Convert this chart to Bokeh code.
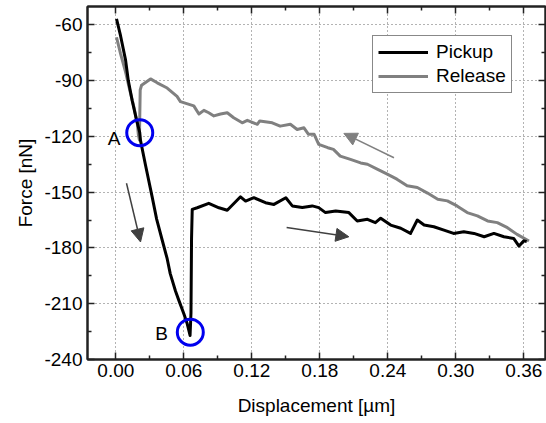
from bokeh.plotting import figure
from bokeh.models import (Range1d, FixedTicker, LinearAxis, Legend, LegendItem,
                          Arrow, NormalHead, ColumnDataSource)
from bokeh.core.properties import value
from bokeh.embed import file_html
from bokeh.resources import INLINE

# ---------------- data ----------------
pickup_x = [0.0006, 0.0042, 0.0086, 0.011, 0.0145, 0.018, 0.0211, 0.0218, 0.0262, 0.032,
            0.036, 0.041, 0.0453, 0.048, 0.0527, 0.0556, 0.06, 0.063, 0.0655,
            0.0663, 0.0668, 0.0674, 0.0718, 0.082, 0.091, 0.0983, 0.110, 0.1145, 0.1218,
            0.132, 0.1395, 0.150, 0.1557, 0.1645, 0.1733, 0.179, 0.185, 0.194, 0.2056,
            0.213, 0.222, 0.229, 0.2337, 0.2425, 0.2514, 0.26, 0.266, 0.272, 0.2806,
            0.2895, 0.298, 0.307, 0.316, 0.325, 0.3336, 0.3424, 0.351, 0.3557, 0.36, 0.3625]
pickup_y = [-56.8, -66.0, -79.0, -90.0, -101.0, -110.5, -118.0, -122.3, -135.5, -152.4,
            -164.5, -176.0, -185.8, -193.8, -203.3, -208.2, -215.4, -220.8, -227.1,
            -215.0, -175.0, -159.3, -158.4, -156.0, -158.4, -159.7, -152.5, -154.8, -153.0,
            -155.7, -156.6, -153.0, -157.4, -158.3, -157.4, -158.3, -161.0, -160.1, -161.0,
            -165.5, -164.6, -166.4, -164.0, -167.7, -169.4, -172.2, -165.0, -167.7, -168.6,
            -170.4, -172.2, -171.3, -172.2, -174.0, -172.2, -174.0, -174.9, -179.0, -176.2, -176.5]

release_x = [0.0006, 0.0042, 0.0086, 0.0124, 0.016, 0.019, 0.0198, 0.0208, 0.0215,
             0.0227, 0.0306, 0.0365, 0.0453, 0.054, 0.057, 0.0688, 0.0733, 0.0777, 0.082,
             0.0865, 0.0924, 0.0983, 0.104, 0.1115, 0.116, 0.1248, 0.127, 0.138, 0.145,
             0.154, 0.160, 0.166, 0.170, 0.175, 0.179, 0.187, 0.192, 0.198, 0.207, 0.216,
             0.222, 0.2306, 0.2395, 0.248, 0.257, 0.266, 0.275, 0.284, 0.2925, 0.301,
             0.310, 0.319, 0.328, 0.3366, 0.3455, 0.354, 0.3645]
release_y = [-66.7, -75.6, -85.5, -95.4, -104.4, -113.3, -118.7, -122.0, -95.0,
             -92.5, -89.1, -91.2, -94.0, -98.5, -101.3, -103.6, -108.0, -106.0, -107.3,
             -109.0, -108.0, -107.3, -110.0, -112.7, -111.4, -113.5, -111.7, -112.7, -114.5,
             -113.5, -116.3, -115.4, -118.9, -118.9, -124.3, -126.1, -127.0, -130.6, -132.4, -134.3,
             -135.0, -137.6, -140.3, -143.0, -146.6, -147.5, -150.5, -153.8, -154.7, -157.4,
             -161.0, -162.8, -165.5, -166.4, -169.1, -172.7, -176.3]

series_names = ["Pickup", "Release"]

x_ticks = [0.0, 0.06, 0.12, 0.18, 0.24, 0.30, 0.36]
x_tick_labels = ["0.00", "0.06", "0.12", "0.18", "0.24", "0.30", "0.36"]
x_minor = [0.03, 0.09, 0.15, 0.21, 0.27, 0.33]
y_ticks = [-240, -210, -180, -150, -120, -90, -60]
y_tick_labels = ["-240", "-210", "-180", "-150", "-120", "-90", "-60"]
y_minor = [-225, -195, -165, -135, -105, -75]

marker_names = ["A", "B"]
marker_x = [0.0211, 0.0657]
marker_y = [-118.0, -225.3]
label_x = [0.0041, 0.0459]
label_y = [-121.2, -226.2]

arrow_x_start = [0.0094, 0.1507, 0.2454]
arrow_y_start = [-145.2, -169.0, -131.5]
arrow_x_end = [0.0218, 0.2056, 0.2012]
arrow_y_end = [-176.8, -174.0, -118.4]
arrow_colors = ["#404040", "#404040", "#808080"]

# ---------------- styling ----------------
FONT = "Liberation Sans"
FS = "19px"
TXT = "#000000"
AXC = "#222222"

p = figure(width=546, height=423, output_backend="svg", toolbar_location=None,
           x_range=Range1d(-0.025, 0.3791), y_range=Range1d(-240, -50.16),
           min_border_left=87, min_border_right=1, min_border_top=6, min_border_bottom=64)
p.background_fill_color = "white"
p.border_fill_color = "white"
p.outline_line_color = AXC
p.outline_line_width = 2

xt = FixedTicker(ticks=x_ticks, minor_ticks=x_minor)
yt = FixedTicker(ticks=y_ticks, minor_ticks=y_minor)

def style_axis(ax, t):
    ax.ticker = t
    ax.major_tick_in = 7
    ax.major_tick_out = 0
    ax.minor_tick_in = 4
    ax.minor_tick_out = 0
    ax.axis_line_color = AXC
    ax.axis_line_width = 2
    ax.major_tick_line_color = AXC
    ax.major_tick_line_width = 1.5
    ax.minor_tick_line_color = AXC
    ax.minor_tick_line_width = 1.5

for ax, t, labels in ((p.xaxis[0], xt, dict(zip(x_ticks, x_tick_labels))),
                      (p.yaxis[0], yt, dict(zip(y_ticks, y_tick_labels)))):
    style_axis(ax, t)
    ax.major_label_overrides = labels
    ax.major_label_text_font = FONT
    ax.major_label_text_font_size = FS
    ax.major_label_text_color = TXT
    ax.axis_label_text_font = FONT
    ax.axis_label_text_font_size = FS
    ax.axis_label_text_font_style = "normal"
    ax.axis_label_text_color = TXT

p.xaxis[0].axis_label = "Displacement [\u00b5m]"
p.yaxis[0].axis_label = "Force [nN]"
p.xaxis[0].major_label_standoff = 4
p.yaxis[0].major_label_standoff = 5
p.xaxis[0].axis_label_standoff = 15
p.yaxis[0].axis_label_standoff = 5

for loc, t, ticks in (("above", xt, x_ticks), ("right", yt, y_ticks)):
    ax2 = LinearAxis()
    style_axis(ax2, t)
    ax2.major_label_overrides = {k: "" for k in ticks}
    ax2.major_label_text_font_size = "1px"
    ax2.major_label_standoff = 0
    p.add_layout(ax2, loc)

for g, t in ((p.xgrid[0], xt), (p.ygrid[0], yt)):
    g.ticker = t
    g.grid_line_color = "#666666"
    g.grid_line_dash = "1 3"
    g.grid_line_width = 1

# ---------------- curves ----------------
r_rel = p.line(release_x, release_y, line_color="#808080", line_width=3, line_join="round")
r_pick = p.line(pickup_x, pickup_y, line_color="#000000", line_width=3, line_join="round")

# ---------------- arrows ----------------
for xs, ys, xe, ye, c in zip(arrow_x_start, arrow_y_start, arrow_x_end, arrow_y_end, arrow_colors):
    p.add_layout(Arrow(end=NormalHead(size=13, fill_color=c, line_color=c, line_width=1),
                       x_start=xs, y_start=ys, x_end=xe, y_end=ye,
                       line_color=c, line_width=1.5))

# ---------------- circles and labels ----------------
p.scatter(marker_x, marker_y, marker="circle", size=26, fill_color=None,
          line_color="#0000ee", line_width=3)
src = ColumnDataSource(dict(x=label_x, y=label_y, t=marker_names))
p.text(x="x", y="y", text="t", source=src, text_font=value(FONT), text_font_size=FS,
       text_align="right", text_baseline="middle", text_color=TXT)

# ---------------- legend ----------------
legend = Legend(items=[LegendItem(label=series_names[0], renderers=[r_pick]),
                       LegendItem(label=series_names[1], renderers=[r_rel])],
                location=(285, 266), orientation="vertical",
                label_text_font=FONT, label_text_font_size=FS, label_text_color=TXT,
                glyph_width=50, glyph_height=20, label_height=20, label_standoff=8,
                spacing=2, padding=5, margin=0,
                border_line_color="#111111", border_line_width=1.5,
                background_fill_color="white", background_fill_alpha=1)
p.add_layout(legend, "center")

open("out.html", "w").write(file_html(p, INLINE))
